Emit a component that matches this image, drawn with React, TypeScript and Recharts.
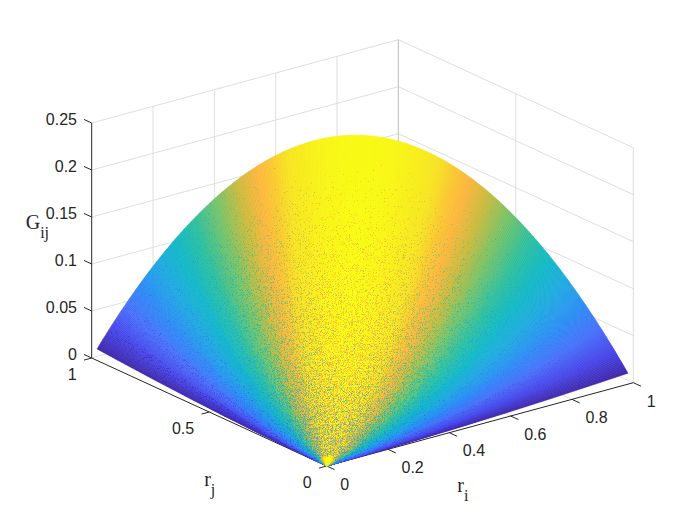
import React from 'react';
import { ScatterChart, Scatter, XAxis, YAxis } from 'recharts';

// ---- data ----
const rimRi = [
  0.01,0.02,0.03,0.04,0.05,0.06,0.07,0.08,0.09,0.1,0.11,0.12,0.13,0.14,0.15,0.16,0.17,0.18,0.19,0.2,
  0.21,0.22,0.23,0.24,0.25,0.26,0.27,0.28,0.29,0.3,0.31,0.32,0.33,0.34,0.35,0.36,0.37,0.38,0.39,0.4,
  0.41,0.42,0.43,0.44,0.45,0.46,0.47,0.48,0.49,0.5,0.51,0.52,0.53,0.54,0.55,0.56,0.57,0.58,0.59,0.6,
  0.61,0.62,0.63,0.64,0.65,0.66,0.67,0.68,0.69,0.7,0.71,0.72,0.73,0.74,0.75,0.76,0.77,0.78,0.79,0.8,
  0.81,0.82,0.83,0.84,0.85,0.86,0.87,0.88,0.89,0.9,0.91,0.92,0.93,0.94,0.95,0.96,0.97,0.98,0.99,
];
const rimG = [
  0.0099,0.0196,0.0291,0.0384,0.0475,0.0564,0.0651,0.0736,0.0819,0.09,0.0979,0.1056,0.1131,0.1204,0.1275,0.1344,0.1411,0.1476,0.1539,0.16,
  0.1659,0.1716,0.1771,0.1824,0.1875,0.1924,0.1971,0.2016,0.2059,0.21,0.2139,0.2176,0.2211,0.2244,0.2275,0.2304,0.2331,0.2356,0.2379,0.24,
  0.2419,0.2436,0.2451,0.2464,0.2475,0.2484,0.2491,0.2496,0.2499,0.25,0.2499,0.2496,0.2491,0.2484,0.2475,0.2464,0.2451,0.2436,0.2419,0.24,
  0.2379,0.2356,0.2331,0.2304,0.2275,0.2244,0.2211,0.2176,0.2139,0.21,0.2059,0.2016,0.1971,0.1924,0.1875,0.1824,0.1771,0.1716,0.1659,0.16,
  0.1539,0.1476,0.1411,0.1344,0.1275,0.1204,0.1131,0.1056,0.0979,0.09,0.0819,0.0736,0.0651,0.0564,0.0475,0.0384,0.0291,0.0196,0.0099,
];
const rayDepth = [0, 0.15, 0.3, 0.45, 0.6, 0.75, 0.9, 1];
const rayLift = [0, 0.0225, 0.09, 0.2025, 0.36, 0.5625, 0.81, 1];

const riTicks = [0, 0.2, 0.4, 0.6, 0.8, 1];
const riTickLabels = ['0', '0.2', '0.4', '0.6', '0.8', '1'];
const rjTicks = [0, 0.5, 1];
const rjTickLabels = ['0', '0.5', '1'];
const gTicks = [0, 0.05, 0.1, 0.15, 0.2, 0.25];
const gTickLabels = ['0', '0.05', '0.1', '0.15', '0.2', '0.25'];

// ---- view: orthographic projection of (ri, rj, G) into the chart's units ----
const project = (ri: number, rj: number, g: number) => ({
  x: 326.7 + 306.6 * ri - 235 * rj,
  y: 466 - 83.3 * ri - 108 * rj - 940 * g,
});

const parulaStops: [number, number[]][] = [
  [0, [62, 38, 168]], [0.1, [71, 70, 235]], [0.2, [70, 112, 250]], [0.3, [42, 140, 245]],
  [0.4, [30, 168, 225]], [0.5, [16, 184, 198]], [0.6, [48, 192, 155]], [0.7, [125, 194, 100]],
  [0.78, [205, 186, 60]], [0.84, [252, 182, 60]], [0.88, [250, 200, 50]], [0.92, [247, 228, 35]], [1, [248, 250, 18]],
];
const parula = (v: number) => {
  const c = Math.min(1, Math.max(0, v));
  for (let i = 1; i < parulaStops.length; i++) {
    const [a, ca] = parulaStops[i - 1];
    const [b, cb] = parulaStops[i];
    if (c <= b) {
      const f = (c - a) / (b - a);
      return `rgb(${ca.map((q, j) => Math.round(q + (cb[j] - q) * f)).join(',')})`;
    }
  }
  return 'rgb(248,250,18)';
};

// smooth shading: each facet of the rim is shaded in a few steps between its two rays
const shadeLevel = (g: number) => (g - 0.0099) / (0.25 - 0.0099);
const facetPoints = (r0: number, g0: number, r1: number, g1: number) => {
  const pts = rayDepth.map((t, d) => project(r0 * t, (1 - r0) * t, g0 * rayLift[d]));
  for (let d = rayDepth.length - 1; d >= 0; d--) {
    pts.push(project(r1 * rayDepth[d], (1 - r1) * rayDepth[d], g1 * rayLift[d]));
  }
  return pts;
};
const facets: { pts: { x: number; y: number }[]; color: string; g: number }[] = [];
rimRi.slice(0, -1).forEach((_, k) => {
  const steps = k < 15 || k >= 83 ? 6 : k < 30 || k >= 68 ? 4 : 2;
  for (let s = 0; s < steps; s++) {
    const f0 = s / steps;
    const f1 = (s + 1) / steps;
    const r0 = rimRi[k] + (rimRi[k + 1] - rimRi[k]) * f0;
    const r1 = rimRi[k] + (rimRi[k + 1] - rimRi[k]) * f1;
    const g0 = rimG[k] + (rimG[k + 1] - rimG[k]) * f0;
    const g1 = rimG[k] + (rimG[k + 1] - rimG[k]) * f1;
    const g = (g0 + g1) / 2;
    facets.push({ pts: facetPoints(r0, g0, r1, g1), color: parula(shadeLevel(g)), g });
  }
});
facets.sort((a, b) => a.g - b.g);

// coarser facet copies, shown through a speckle mask, at a lowered colour level
const speckleFan = (factor: number) => {
  const out: { pts: { x: number; y: number }[]; color: string }[] = [];
  for (let k = 0; k + 3 < rimRi.length; k += 3) {
    out.push({
      pts: facetPoints(rimRi[k], rimG[k], rimRi[k + 3], rimG[k + 3]),
      color: parula(shadeLevel(rimG[k + 1]) * factor),
    });
  }
  return out;
};
const warmFan = speckleFan(0.86);
const midFan = speckleFan(0.72);
const coolFan = speckleFan(0.3);

const densityA: [number, number][] = [[0, 0], [0.02, 0], [0.03, 0.56], [0.15, 0.53], [0.3, 0.48], [0.5, 0.42], [0.7, 0.35], [0.85, 0.27], [1, 0]];
const densityB: [number, number][] = [[0, 0], [0.02, 0], [0.03, 0.44], [0.15, 0.41], [0.3, 0.36], [0.5, 0.31], [0.7, 0.25], [0.85, 0.18], [1, 0]];
const densityC: [number, number][] = [[0, 0], [0.02, 0], [0.03, 0.46], [0.15, 0.41], [0.25, 0.34], [0.4, 0.24], [0.55, 0.1], [1, 0]];

const SpeckleMask = ({ id, stops, seed }: { id: string; stops: [number, number][]; seed: number }) => (
  <>
    <radialGradient id={`${id}g`} gradientUnits="userSpaceOnUse" cx={326.7} cy={466} r={340}>
      {stops.map(([o, v], i) => {
        const c = Math.round(v * 255);
        return <stop key={i} offset={o} stopColor={`rgb(${c},${c},${c})`} />;
      })}
    </radialGradient>
    <filter id={`${id}f`} filterUnits="userSpaceOnUse" x={0} y={0} width={700} height={525} colorInterpolationFilters="sRGB">
      <feTurbulence type="fractalNoise" baseFrequency="1.37" numOctaves={2} seed={seed} result="noise" />
      <feColorMatrix in="noise" type="matrix" values="1 0 0 0 0  1 0 0 0 0  1 0 0 0 0  0 0 0 0 1" result="grey" />
      <feComposite in="grey" in2="SourceGraphic" operator="arithmetic" k1={0} k2={1} k3={1} k4={-1} result="sum" />
      <feColorMatrix in="sum" type="matrix" values="0 0 0 0 1  0 0 0 0 1  0 0 0 0 1  20 0 0 0 0" />
    </filter>
    <mask id={id} maskUnits="userSpaceOnUse" x={0} y={0} width={700} height={525}>
      <rect x={0} y={0} width={700} height={525} fill={`url(#${id}g)`} filter={`url(#${id}f)`} />
    </mask>
  </>
);

// ---- frame ----
const seg = (a: [number, number, number], b: [number, number, number]) => [project(...a), project(...b)];
const gridSegs = [
  ...gTicks.map((g) => seg([0, 1, g], [1, 1, g])),
  ...gTicks.map((g) => seg([1, 1, g], [1, 0, g])),
  ...riTicks.slice(1, -1).map((r) => seg([r, 1, 0], [r, 1, 0.25])),
  ...riTicks.slice(1, -1).map((r) => seg([r, 0, 0], [r, 1, 0])),
  seg([1, 0.5, 0], [1, 0.5, 0.25]),
  seg([0, 0.5, 0], [1, 0.5, 0]),
  seg([1, 0, 0], [1, 0, 0.25]),
];
const backEdge = seg([1, 1, 0], [1, 1, 0.25]);
const axisSegs = [
  seg([0, 1, 0], [0, 1, 0.25]),
  seg([0, 0, 0], [1, 0, 0]),
  seg([0, 0, 0], [0, 1, 0]),
  ...gTicks.map((g) => seg([0, 1, g], [0, 1.033, g])),
  ...riTicks.map((r) => seg([r, 0, 0], [r, -0.033, 0])),
  ...rjTicks.map((r) => seg([0, r, 0], [-0.025, r, 0])),
];

const riLabelPts = riTicks.map((r, i) => ({ ...project(r, 0, 0), label: riTickLabels[i] }));
const rjLabelPts = rjTicks.map((r, i) => ({ ...project(0, r, 0), label: rjTickLabels[i] }));
const gLabelPts = gTicks.map((g, i) => ({ ...project(0, 1, g), label: gTickLabels[i] }));

const TICK_FONT = '"Liberation Sans", Arial, sans-serif';
const TITLE_FONT = '"Liberation Serif", "Times New Roman", serif';
const tickText = (anchor: 'start' | 'end', dx: number, dy: number) => (p: any) => (
  <text
    x={p.cx + dx}
    y={p.cy + dy}
    textAnchor={anchor}
    dominantBaseline="central"
    fontFamily={TICK_FONT}
    fontSize={16}
    fill="#262626"
  >
    {p.payload?.label ?? p.label}
  </text>
);
const titleText = (main: string, sub: string, dx: number, dy: number) => (p: any) => (
  <text x={p.cx + dx} y={p.cy + dy} fontFamily={TITLE_FONT} fontSize={20} fill="#262626">
    {main}
    <tspan fontSize={16} dy={9}>
      {sub}
    </tspan>
  </text>
);
const Nothing = () => <g />;

const lineSeries = (pts: { x: number; y: number }[], key: string, stroke: string, width = 1) => (
  <Scatter
    key={key}
    data={pts}
    line={{ stroke, strokeWidth: width, fill: 'none' }}
    shape={Nothing as any}
    isAnimationActive={false}
  />
);
const polySeries = (pts: { x: number; y: number }[], key: string, color: string, mask?: string, opacity = 1) => (
  <Scatter
    key={key}
    data={pts}
    line={{
      fill: color,
      stroke: mask ? 'none' : color,
      strokeWidth: 0.6,
      fillOpacity: opacity,
      ...(mask ? { mask: `url(#${mask})`, style: { mask: `url(#${mask})` } } : {}),
    }}
    shape={Nothing as any}
    isAnimationActive={false}
  />
);

export default function App() {
  return (
    <div style={{ position: 'absolute', left: 0, top: 0, width: 700, height: 525, background: '#fff' }}>
      <ScatterChart width={700} height={525} margin={{ top: 0, right: 0, bottom: 0, left: 0 }}>
        <defs>
          <SpeckleMask id="maskA" stops={densityA} seed={7} />
          <SpeckleMask id="maskB" stops={densityB} seed={23} />
          <SpeckleMask id="maskC" stops={densityC} seed={51} />
        </defs>
        <XAxis type="number" dataKey="x" domain={[0, 700]} hide />
        <YAxis type="number" dataKey="y" domain={[0, 525]} reversed hide />
        {gridSegs.map((s, i) => lineSeries(s, `g${i}`, '#dedede'))}
        {lineSeries(backEdge, 'back', '#bdbdbd')}
        {axisSegs.map((s, i) => lineSeries(s, `a${i}`, '#262626'))}
        {facets.map((w, i) => polySeries(w.pts, `w${i}`, w.color))}
        {warmFan.map((w, i) => polySeries(w.pts, `o${i}`, w.color, 'maskA', 0.9))}
        {midFan.map((w, i) => polySeries(w.pts, `m${i}`, w.color, 'maskB', 0.65))}
        {coolFan.map((w, i) => polySeries(w.pts, `c${i}`, w.color, 'maskC', 0.55))}
        <Scatter data={riLabelPts} shape={tickText('start', 13.5, 18.3) as any} isAnimationActive={false} />
        <Scatter data={rjLabelPts} shape={tickText('end', -15, 16) as any} isAnimationActive={false} />
        <Scatter data={gLabelPts} shape={tickText('end', -14.7, -4) as any} isAnimationActive={false} />
        <Scatter data={[project(0, 1, 0.15)]} shape={titleText('G', 'ij', -66, 12) as any} isAnimationActive={false} />
        <Scatter data={[project(0, 0.5, 0)]} shape={titleText('r', 'j', -5, 74) as any} isAnimationActive={false} />
        <Scatter data={[project(0.4, 0, 0)]} shape={titleText('r', 'i', 8, 59) as any} isAnimationActive={false} />
      </ScatterChart>
    </div>
  );
}
